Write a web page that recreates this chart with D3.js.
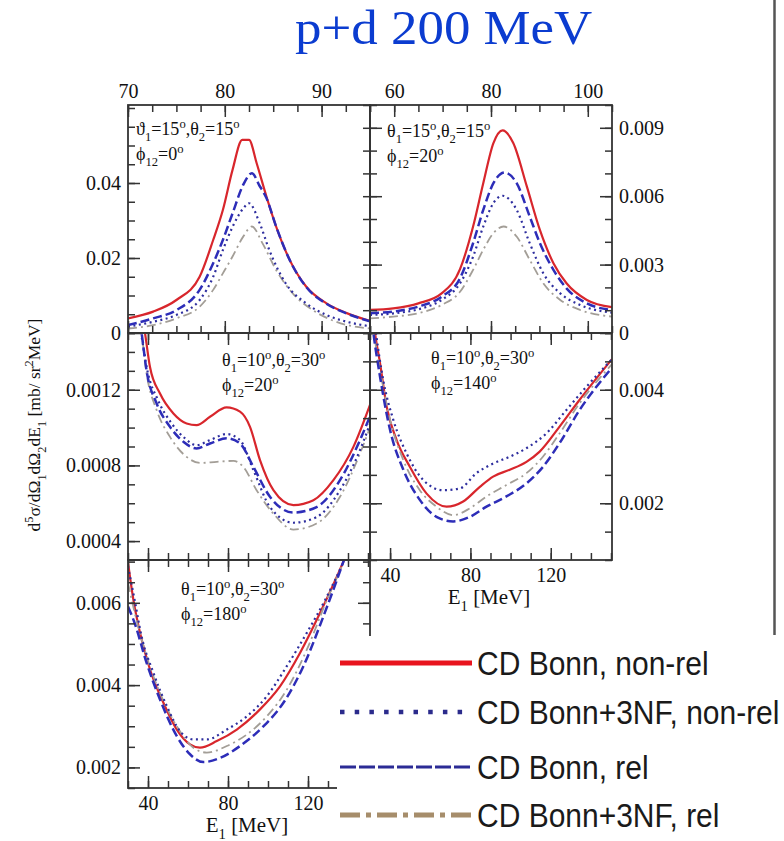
<!DOCTYPE html>
<html>
<head>
<meta charset="utf-8">
<script src="https://cdn.jsdelivr.net/npm/d3@7"></script>
<style>
  body { margin: 0; background: #fff; }
  svg { display: block; }
</style>
</head>
<body>
<svg id="chart" width="784" height="841"></svg>
<script>
// ---- data: [E1 (MeV), d5sigma (mb/sr^2 MeV)] ----

// theta1=15, theta2=15, phi12=0
const tlCdb = [[70,0.0039],[72.6,0.0057],[75,0.0088],[77.4,0.015],[78.8,0.0248],[79.8,0.0328],[80.8,0.0435],[81.8,0.0515],[82.5,0.0515],[83.3,0.0452],[84.3,0.0364],[85.3,0.0284],[86.7,0.0195],[88.4,0.0124],[90.5,0.0079],[92.6,0.0053],[95,0.0032]];
const tl3nf = [[70,0.0017],[72.6,0.003],[75,0.0048],[77.4,0.0088],[78.8,0.015],[79.8,0.0221],[80.8,0.0283],[81.9,0.0332],[82.5,0.0346],[83.6,0.0293],[84.6,0.0221],[86.3,0.0132],[88.4,0.0079],[90.5,0.0048],[92.6,0.003],[95,0.0018]];
const tlRel = [[70,0.0021],[72.6,0.0039],[75,0.0061],[77.4,0.0115],[78.8,0.0186],[79.8,0.0248],[80.8,0.0319],[81.9,0.0395],[82.8,0.0426],[83.6,0.0392],[84.3,0.036],[85.3,0.0284],[86.7,0.0195],[88.4,0.0123],[90.5,0.0078],[92.6,0.0052],[95,0.0031]];
const tl3nfRel = [[70,0.0012],[72.6,0.0021],[75,0.0039],[77.4,0.007],[78.8,0.0115],[79.8,0.0159],[80.8,0.0204],[81.9,0.0257],[82.8,0.0284],[83.9,0.0239],[85.3,0.0168],[87,0.0106],[89.1,0.0061],[91.5,0.003],[95,0.0012]];

// theta1=15, theta2=15, phi12=20
const trCdb = [[55,0.00101],[59.8,0.00108],[65,0.0013],[69.8,0.00174],[73.6,0.0028],[76.3,0.00467],[78.4,0.00657],[80.5,0.00833],[82.4,0.00889],[84.6,0.00833],[87.4,0.00643],[90.1,0.00452],[92.9,0.00306],[95.6,0.00218],[99.8,0.00145],[105,0.00113]];
const tr3nf = [[55,0.00079],[59.8,0.00086],[65,0.00104],[69.8,0.00145],[73.6,0.00218],[76.3,0.00335],[78.4,0.00467],[80.5,0.0057],[82.4,0.00602],[85.3,0.0054],[88,0.00394],[90.8,0.00262],[94.3,0.00174],[98.4,0.00123],[105,0.00089]];
const trRel = [[55,0.00087],[59.8,0.00094],[65,0.00116],[69.8,0.00159],[73.6,0.0024],[76.3,0.00394],[78.4,0.0054],[80.5,0.00657],[82.8,0.00704],[85.3,0.00657],[88,0.00511],[90.1,0.00394],[92.9,0.00277],[95.6,0.00196],[99.8,0.0013],[105,0.00101]];
const tr3nfRel = [[55,0.00064],[59.8,0.00072],[65,0.00087],[69.8,0.00123],[73.6,0.00181],[76.3,0.00277],[78.4,0.00365],[80.5,0.00438],[82.6,0.00467],[85.3,0.00423],[88,0.00321],[90.8,0.00218],[94.3,0.00145],[98.4,0.00101],[105,0.00072]];

// theta1=10, theta2=30, phi12=20
const mlCdb = [[37,0.0016],[38.5,0.0015],[41,0.00132],[46,0.00118],[52.7,0.001075],[59.3,0.001022],[64.3,0.001013],[71,0.001057],[79.3,0.001107],[86,0.001084],[91,0.001004],[96,0.000828],[102.7,0.000669],[112.7,0.00059],[122.7,0.000616],[132.7,0.000722],[142.7,0.000898],[151,0.00112]];
const ml3nf = [[35.5,0.00156],[36.5,0.0015],[39.7,0.0013],[45,0.001145],[51.8,0.001022],[58.5,0.000943],[64.3,0.000907],[71,0.000934],[79.3,0.000966],[86,0.000934],[92.7,0.000775],[101,0.00058],[112.7,0.000497],[124.3,0.000527],[136,0.000669],[146,0.000881],[151,0.00102]];
const mlRel = [[36,0.00156],[36.8,0.0015],[39.3,0.0013],[44.3,0.001128],[51,0.001004],[57.7,0.000925],[64.3,0.00089],[71,0.000916],[79.3,0.000943],[86,0.000916],[92.7,0.000792],[101,0.000634],[112.7,0.000551],[124.3,0.00058],[136,0.000722],[146,0.000934],[151,0.00106]];
const ml3nfRel = [[36,0.00156],[36.8,0.0015],[39.3,0.001287],[44.3,0.001093],[51,0.000951],[59.3,0.000845],[66,0.000813],[74.3,0.000819],[82.7,0.000824],[87.7,0.000792],[94.3,0.000669],[102.7,0.000545],[112.7,0.000461],[124.3,0.000493],[136,0.000634],[146,0.000863],[151,0.001]];

// theta1=10, theta2=30, phi12=140
const mrCdb = [[31.8,0.0052],[32.5,0.005],[35,0.00447],[38.3,0.0037],[43.3,0.00311],[49.9,0.00264],[58.2,0.00217],[68.1,0.00194],[76.4,0.00203],[84.7,0.00229],[91.3,0.00247],[99.6,0.00259],[107.9,0.00273],[114.5,0.00291],[124.4,0.00335],[134.3,0.00382],[150.5,0.00454]];
const mr3nf = [[32.3,0.0052],[33,0.005],[36.6,0.00417],[41.6,0.00347],[48.2,0.00288],[56.5,0.00241],[66.4,0.00223],[74.7,0.00226],[83,0.00253],[91.3,0.0027],[99.6,0.00282],[107.9,0.00297],[117.8,0.00323],[127.7,0.00364],[137.7,0.00405],[150.5,0.00454]];
const mrRel = [[31,0.0052],[31.7,0.005],[35,0.00423],[40,0.00329],[46.6,0.00259],[54.8,0.00206],[63.1,0.00176],[71.4,0.00168],[79.7,0.00176],[88,0.00194],[97.9,0.00212],[107.9,0.00235],[116.1,0.00264],[124.4,0.00306],[134.3,0.00364],[150.5,0.00439]];
const mr3nfRel = [[31.3,0.0052],[32,0.005],[35,0.00435],[40,0.00347],[46.6,0.00276],[54.8,0.00223],[63.1,0.00194],[71.4,0.00179],[79.7,0.00191],[88,0.00212],[97.9,0.00232],[107.9,0.00253],[116.1,0.00282],[124.4,0.00323],[134.3,0.00376],[150.5,0.00445]];

// theta1=10, theta2=30, phi12=180
const blCdb = [[30,0.00698],[32.7,0.00607],[36,0.00527],[41,0.00438],[47.7,0.00357],[54.4,0.00292],[61,0.00256],[66,0.00248],[74.4,0.00264],[84.4,0.00292],[96,0.00341],[106,0.00397],[116,0.00478],[126,0.00575],[137.7,0.007],[139,0.00715]];
const bl3nf = [[30,0.00688],[33.3,0.00607],[36.8,0.00518],[42.7,0.0043],[49.4,0.00349],[56,0.00288],[62.7,0.00268],[69.4,0.00268],[79.4,0.00292],[89.4,0.00324],[99.4,0.00373],[109.4,0.00446],[119.4,0.00527],[129.4,0.00615],[137.7,0.007],[139,0.00715]];
const blRel = [[30,0.00591],[33.3,0.00551],[39.3,0.00454],[46,0.00365],[54.4,0.00276],[61,0.00232],[67.7,0.00213],[76,0.00223],[86,0.00252],[97.7,0.003],[107.7,0.00357],[117.7,0.00446],[127.7,0.00567],[137.7,0.007],[139,0.00718]];
const bl3nfRel = [[30,0.00648],[34.2,0.00559],[39.3,0.0047],[46,0.00381],[54.4,0.003],[62.7,0.00248],[69.4,0.00236],[79.4,0.00252],[89.4,0.0028],[99.4,0.00324],[109.4,0.00389],[119.4,0.00486],[129.4,0.00607],[137.7,0.007],[139,0.00718]];

// tick labels
const tlXTicks = [70, 80, 90];
const tlYTicks = [0, 0.02, 0.04];
const trXTicks = [60, 80, 100];
const trYTicks = [0, 0.003, 0.006, 0.009];
const lowXTicks = [40, 80, 120];
const mlYTicks = [0.0004, 0.0008, 0.0012];
const mrYTicks = [0.002, 0.004];
const blYTicks = [0.002, 0.004, 0.006];

const legendLabels = ["CD Bonn, non-rel", "CD Bonn+3NF, non-rel", "CD Bonn, rel", "CD Bonn+3NF, rel"];

// kinematics notes: [text, "sub"|"sup"|undefined]
const tlNote = [[["ϑ"],["1","sub"],["=15"],["o","sup"],[",θ"],["2","sub"],["=15"],["o","sup"]], [["ϕ"],["12","sub"],["=0"],["o","sup"]]];
const trNote = [[["θ"],["1","sub"],["=15"],["o","sup"],[",θ"],["2","sub"],["=15"],["o","sup"]], [["ϕ"],["12","sub"],["=20"],["o","sup"]]];
const mlNote = [[["θ"],["1","sub"],["=10"],["o","sup"],[",θ"],["2","sub"],["=30"],["o","sup"]], [["ϕ"],["12","sub"],["=20"],["o","sup"]]];
const mrNote = [[["θ"],["1","sub"],["=10"],["o","sup"],[",θ"],["2","sub"],["=30"],["o","sup"]], [["ϕ"],["12","sub"],["=140"],["o","sup"]]];
const blNote = [[["θ"],["1","sub"],["=10"],["o","sup"],[",θ"],["2","sub"],["=30"],["o","sup"]], [["ϕ"],["12","sub"],["=180"],["o","sup"]]];

// ---- drawing ----
const svg = d3.select("#chart");
const serif = "'Liberation Serif','Times New Roman',serif";
const sans = "'Liberation Sans',Arial,sans-serif";

const styles = [
  {color: "#d8262c", width: 2.2, dash: null},
  {color: "#a39e97", width: 1.8, dash: "9,4,2,4"},
  {color: "#2e2e9e", width: 2.2, dash: "2,3.5"},
  {color: "#2d2db8", width: 2.5, dash: "9,4"}
];

const panels = [
  {x0:128, x1:370, y0:105, y1:333, xDom:[70,95], yDom:[0,0.0608], xT:tlXTicks, xS:2.5, yT:tlYTicks, yS:0.005,
   lab:{top:1, left:1}, series:[tlCdb, tl3nfRel, tl3nf, tlRel], note:tlNote, nx:136, ny:135, right:false},
  {x0:370, x1:612, y0:105, y1:333, xDom:[55,105], yDom:[0,0.01], xT:trXTicks, xS:5, yT:trYTicks, yS:0.001,
   lab:{top:1, right:1}, series:[trCdb, tr3nfRel, tr3nf, trRel], note:trNote, nx:387, ny:137, right:true},
  {x0:128, x1:370, y0:333, y1:560, xDom:[30,151], yDom:[0.0003,0.0015], xT:lowXTicks, xS:10, yT:mlYTicks, yS:0.0001,
   lab:{left:1}, series:[mlCdb, ml3nfRel, ml3nf, mlRel], note:mlNote, nx:222, ny:366, right:false},
  {x0:370, x1:612, y0:333, y1:560, xDom:[30,150.5], yDom:[0.001,0.005], xT:lowXTicks, xS:10, yT:mrYTicks, yS:0.0005,
   lab:{bottom:1, right:1}, series:[mrCdb, mr3nfRel, mr3nf, mrRel], note:mrNote, nx:431, ny:364, right:true, title:true},
  {x0:128, x1:370, y0:560, y1:788, xDom:[30,151], yDom:[0.0015,0.00704], xT:lowXTicks, xS:10, yT:blYTicks, yS:0.0005,
   lab:{bottom:1, left:1}, series:[blCdb, bl3nfRel, bl3nf, blRel], note:blNote, nx:181, ny:595, right:false, title:true, rightTicks:true}
];

const fmt = d3.format("~g");

function rich(parent, x, y, parts, size) {
  const t = parent.append("text").attr("x", x).attr("y", y)
    .attr("font-family", serif).attr("font-size", size).attr("fill", "#111");
  let shift = 0;
  parts.forEach(([s, kind]) => {
    const target = kind === "sub" ? size * 0.32 : kind === "sup" ? -size * 0.4 : 0;
    t.append("tspan").attr("dy", target - shift)
      .attr("font-size", kind ? size * 0.7 : size).text(s);
    shift = target;
  });
  return t;
}

function minorVals(dom, step) {
  const out = [];
  for (let v = Math.ceil(dom[0] / step - 1e-6) * step; v <= dom[1] + 1e-9; v += step) out.push(+v.toFixed(8));
  return out;
}

function addAxis(p, side, scale, values, size, labelled) {
  const gen = {top: d3.axisTop, bottom: d3.axisBottom, left: d3.axisLeft, right: d3.axisRight}[side](scale)
    .tickValues(values).tickSizeInner(size).tickSizeOuter(0)
    .tickPadding(side === "bottom" ? 8 : 7)
    .tickFormat(labelled ? fmt : () => "");
  const tr = {top: [0, p.y0], bottom: [0, p.y1], left: [p.x0, 0], right: [p.x1, 0]}[side];
  const g = svg.append("g").attr("transform", `translate(${tr})`).call(gen);
  g.select(".domain").remove();
  g.attr("font-family", serif).attr("font-size", 20).attr("color", "#333");
  g.selectAll("line").attr("stroke-width", 1.5);
  g.selectAll("text").attr("fill", "#111");
}

panels.forEach((p, i) => {
  const x = d3.scaleLinear().domain(p.xDom).range([p.x0, p.x1]);
  const y = d3.scaleLinear().domain(p.yDom).range([p.y1, p.y0]);

  svg.append("clipPath").attr("id", "clip" + i)
    .append("rect").attr("x", p.x0).attr("y", p.y0).attr("width", p.x1 - p.x0).attr("height", p.y1 - p.y0);

  const line = d3.line().x(d => x(d[0])).y(d => y(d[1])).curve(d3.curveMonotoneX);
  const g = svg.append("g").attr("clip-path", `url(#clip${i})`);
  p.series.forEach((s, k) => {
    g.append("path").datum(s)
      .attr("fill", "none")
      .attr("stroke", styles[k].color)
      .attr("stroke-width", styles[k].width)
      .attr("stroke-dasharray", styles[k].dash)
      .attr("d", line);
  });

  const xMinor = minorVals(p.xDom, p.xS);
  const yMinor = minorVals(p.yDom, p.yS);
  ["top", "bottom"].forEach(side => {
    addAxis(p, side, x, xMinor, -7, false);
    addAxis(p, side, x, p.xT, -12, !!p.lab[side]);
  });
  if (p.right) {
    addAxis(p, "right", y, yMinor, -7, false);
    addAxis(p, "right", y, p.yT, -12, true);
    addAxis(p, "left", y, yMinor, -7, false);
    addAxis(p, "left", y, p.yT, -12, false);
    addAxis(p, "left", y, yMinor, 7, false);
  } else {
    addAxis(p, "left", y, yMinor, -7, false);
    addAxis(p, "left", y, p.yT, -12, true);
    if (p.rightTicks) {
      addAxis(p, "right", y, yMinor, -7, false);
      addAxis(p, "right", y, p.yT, -12, false);
    }
  }

  svg.append("rect").attr("x", p.x0).attr("y", p.y0)
    .attr("width", p.x1 - p.x0).attr("height", p.y1 - p.y0)
    .attr("fill", "none").attr("stroke", "#333").attr("stroke-width", 1.8);

  rich(svg, p.nx, p.ny, p.note[0], 18);
  rich(svg, p.nx, p.ny + 25, p.note[1], 18);

  if (p.title) {
    rich(svg, (p.x0 + p.x1) / 2 - 2, p.y1 + 44, [["E"], ["1", "sub"], [" [MeV]"]], 21)
      .attr("text-anchor", "middle");
  }
});

// y title
rich(svg, 0, 0, [["d"], ["5", "sup"], ["σ/dΩ"], ["1", "sub"], ["dΩ"], ["2", "sub"], ["dE"], ["1", "sub"],
                 [" [mb/ sr"], ["2", "sup"], ["MeV]"]], 17.5)
  .attr("text-anchor", "middle")
  .attr("transform", "translate(40,425) rotate(-90)");

// title
svg.append("text")
  .attr("transform", "translate(295,44) scale(1.08,1)")
  .attr("font-family", serif).attr("font-size", 49).attr("fill", "#0b3cd0")
  .text("p+d 200 MeV");

// slide edge line
svg.append("line").attr("x1", 774.5).attr("x2", 774.5).attr("y1", 0).attr("y2", 635)
  .attr("stroke", "#555").attr("stroke-width", 2.5);

// legend
svg.append("rect").attr("x", 337).attr("y", 636).attr("width", 447).attr("height", 205).attr("fill", "#fff");
const legendStyles = [
  {color: "#e8141e", width: 5, dash: null},
  {color: "#2b2b8c", width: 4.5, dash: "4.5,10.2"},
  {color: "#2b2b95", width: 3, dash: "16,3"},
  {color: "#a68d6b", width: 5, dash: "20,6,5,6"}
];
const legendY = [663, 712, 767, 815];
legendLabels.forEach((name, k) => {
  svg.append("line").attr("x1", 340).attr("x2", 472)
    .attr("y1", legendY[k]).attr("y2", legendY[k])
    .attr("stroke", legendStyles[k].color).attr("stroke-width", legendStyles[k].width)
    .attr("stroke-dasharray", legendStyles[k].dash);
  svg.append("text")
    .attr("transform", `translate(477,${legendY[k] + 12}) scale(1,1.1)`)
    .attr("font-family", sans).attr("font-size", 30).attr("fill", "#1a1a1a")
    .text(name);
});
</script>
</body>
</html>
